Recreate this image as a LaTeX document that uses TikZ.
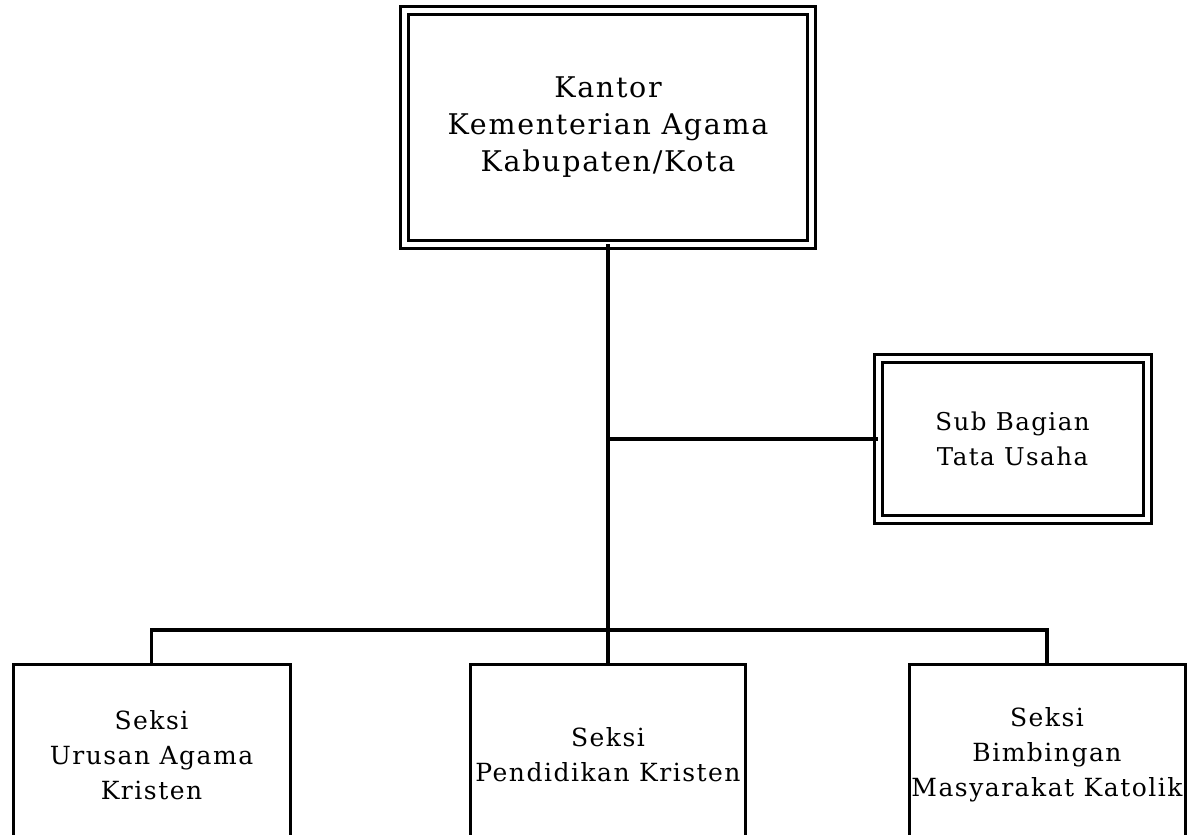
\documentclass[tikz,border=0pt]{standalone}
\usepackage{fontspec}
\setmainfont{DejaVu Serif}[LetterSpace=6]
\begin{document}
\begin{tikzpicture}[x=1pt,y=-1pt,
  dbox/.style={draw, line width=3pt, double, double distance=5pt, minimum width=#1, inner sep=0pt, align=center},
  sbox/.style={draw, line width=3pt, minimum width=277pt, minimum height=182pt, inner sep=0pt, align=center, font=\fontsize{25}{35}\selectfont},
  conn/.style={line width=3.2pt, line cap=rect},
]
\clip (0,0) rectangle (1197,835);
\fill[white] (0,0) rectangle (1197,835);
\node[dbox=406.5pt, minimum height=234pt, font=\fontsize{28.5}{37}\selectfont] (kantor) at (608,127) {Kantor\\Kementerian Agama\\Kabupaten/Kota};
\node[dbox=269pt, minimum height=161.5pt, font=\fontsize{24.5}{35}\selectfont] (sub) at (1012.5,439) {Sub Bagian\\Tata Usaha};
\node[sbox] (s1) at (151.5,755) {Seksi\\Urusan Agama\\Kristen};
\node[sbox, minimum width=275pt] (s2) at (608,755) {Seksi\\Pendidikan Kristen};
\node[sbox, minimum width=276pt] (s3) at (1047,755) {Seksi\\Bimbingan\\Masyarakat Katolik};
\coordinate (bus) at (608,630);
\coordinate (mid) at (608,439);
\draw[conn] (kantor.south) -- (bus);
\draw[conn] (mid) -- (sub.west);
\draw[conn] (s1.north) |- (bus) -| (s3.north);
\draw[conn] (bus) -- (s2.north);
\end{tikzpicture}
\end{document}
